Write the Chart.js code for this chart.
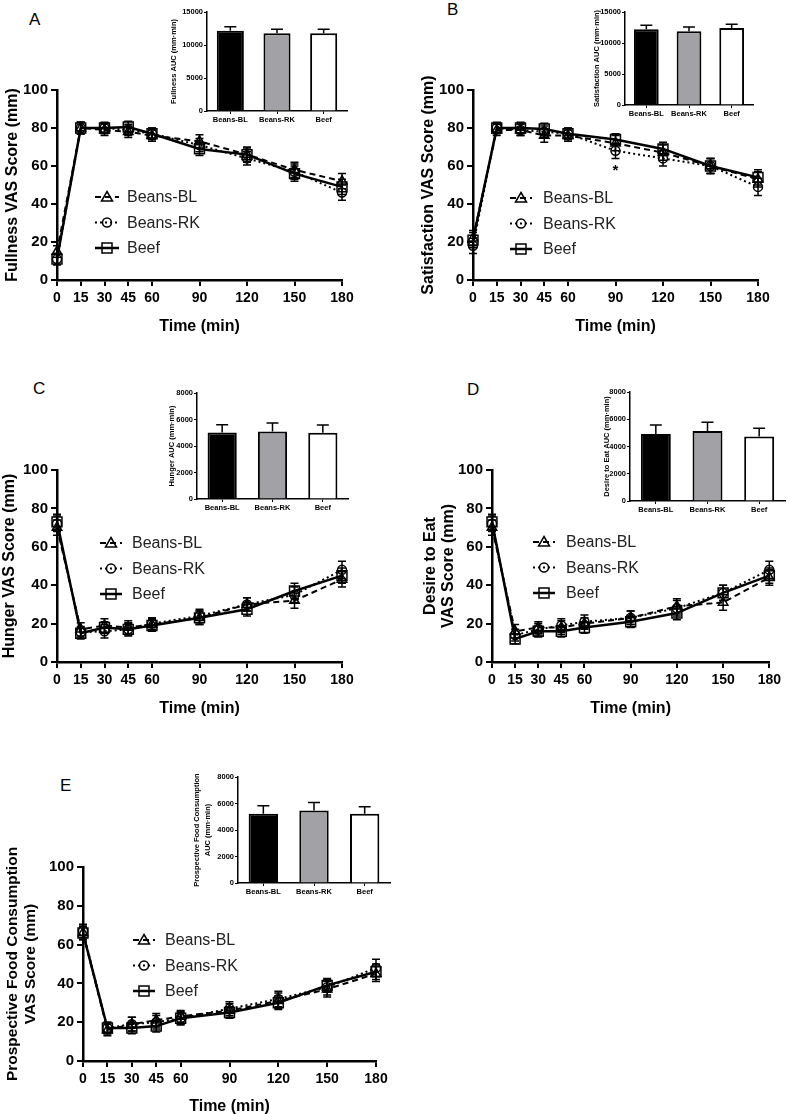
<!DOCTYPE html>
<html>
<head>
<meta charset="utf-8">
<script src="https://cdn.jsdelivr.net/npm/chart.js@4/dist/chart.umd.min.js"></script>
<style>
body{margin:0;width:790px;height:1114px;overflow:hidden;background:#fff;position:relative;font-family:"Liberation Sans",Arial,sans-serif}
canvas{position:absolute}
.lbl{position:absolute;font-size:17px;line-height:1;color:#000}
</style>
</head>
<body>
<div class="lbl" style="left:29px;top:11px">A</div>
<div class="lbl" style="left:447px;top:1px">B</div>
<div class="lbl" style="left:33px;top:380px">C</div>
<div class="lbl" style="left:467px;top:381px">D</div>
<div class="lbl" style="left:60px;top:777px">E</div>

<canvas id="lineA"></canvas><canvas id="barA"></canvas>
<canvas id="lineB"></canvas><canvas id="barB"></canvas>
<canvas id="lineC"></canvas><canvas id="barC"></canvas>
<canvas id="lineD"></canvas><canvas id="barD"></canvas>
<canvas id="lineE"></canvas><canvas id="barE"></canvas>

<script>
// time points (min)
const times = [0, 15, 30, 45, 60, 90, 120, 150, 180]
const groups = ['Beans-BL', 'Beans-RK', 'Beef']

// A - fullness
const fullBL = [15, 80, 79, 78, 76, 73, 66, 58, 52]
const fullBLerr = [3, 3, 3, 3, 3, 3.5, 4, 4, 4]
const fullRK = [11, 80, 80, 79, 77, 71, 64, 57, 46]
const fullRKerr = [3, 3, 3, 3, 3, 3.5, 3.5, 4, 4]
const fullBeef = [11, 80, 80, 80.5, 77, 69, 66, 56, 49]
const fullBeefErr = [3, 3, 2.5, 3, 3, 3.5, 3.5, 4, 4]
const fullAuc = [12170, 11770, 11770]
const fullAucErr = [600, 600, 600]

// B - satisfaction
const satBL = [22, 79, 79, 76, 76, 72, 67, 60, 53]
const satBLerr = [4, 3, 3, 3.5, 3, 4, 4, 4, 4]
const satRK = [18, 80, 79, 78, 77, 68, 64, 60, 49]
const satRKerr = [4, 3, 3, 3, 3, 4, 4, 4, 4.5]
const satBeef = [21, 80, 80, 79.5, 77, 74, 69, 60, 54]
const satBeefErr = [4, 2.5, 3, 3, 3, 3, 3.5, 4, 4]
const satAuc = [12220, 11900, 12430]
const satAucErr = [640, 690, 600]
const satStars = [[90, 59]]

// C - hunger
const hunBL = [70, 17, 19, 18, 19.5, 23, 30, 32, 43]
const hunBLerr = [4, 3.5, 3.5, 3.5, 3, 3.5, 3.5, 4, 4]
const hunRK = [72, 15.5, 16, 17, 20, 24, 30, 35, 48]
const hunRKerr = [4, 3, 3.5, 3.5, 3, 3.5, 3.5, 4, 4.5]
const hunBeef = [73, 15, 18, 17, 19, 23, 27.5, 37, 45]
const hunBeefErr = [4, 3, 3, 3, 3, 3.5, 3.5, 4, 4]
const hunAuc = [5020, 5100, 5000]
const hunAucErr = [580, 630, 580]

// D - desire to eat
const desBL = [70, 16, 18, 18, 20, 23, 29, 31, 44]
const desBLerr = [4, 3.5, 3, 3.5, 3, 3.5, 4, 4, 4]
const desRK = [72, 14, 17, 19, 21, 23, 28, 36, 48]
const desRKerr = [4, 3, 3, 3.5, 3.5, 3.5, 4, 4, 4.5]
const desBeef = [73, 12, 16, 16, 18, 21, 25.5, 36, 45]
const desBeefErr = [4, 2.5, 3, 3, 3, 3, 3.5, 4, 4]
const desAuc = [4920, 5140, 4730]
const desAucErr = [660, 640, 610]

// E - prospective food consumption
const proBL = [66, 16, 19, 21, 23, 26, 31, 37, 45]
const proBLerr = [3.5, 3, 3.5, 3.5, 3, 3.5, 4, 4, 4]
const proRK = [67, 17, 19, 20, 22, 27, 32, 38, 48]
const proRKerr = [3.5, 3, 3.5, 3.5, 3.5, 3.5, 4, 4, 4.5]
const proBeef = [66, 17, 17, 18, 22, 25, 30, 39, 46]
const proBeefErr = [3.5, 3, 3, 3, 3, 3, 3.5, 3.5, 4]
const proAuc = [5230, 5480, 5230]
const proAucErr = [600, 600, 530]

const FAM = '"Liberation Sans", Arial, sans-serif'
Chart.defaults.font.family = FAM
Chart.defaults.color = '#000'

function marker(ctx, style, x, y) {
    ctx.beginPath()
    if (style == 'triangle') {
        ctx.moveTo(x, y - 5.5); ctx.lineTo(x + 5.5, y + 4); ctx.lineTo(x - 5.5, y + 4); ctx.closePath()
    } else if (style == 'circle') {
        ctx.arc(x, y, 4.5, 0, Math.PI * 2)
    } else {
        ctx.rect(x - 5, y - 5, 10, 10)
    }
    ctx.stroke()
}

const errorBars = {
    id: 'errorBars',
    afterDatasetsDraw(chart) {
        const ctx = chart.ctx, ys = chart.scales.y
        chart.data.datasets.forEach((ds, i) => {
            if (!ds.errors) return
            const meta = chart.getDatasetMeta(i)
            ctx.save()
            ctx.strokeStyle = '#000'
            ctx.lineWidth = ds.errWidth || 1.5
            ctx.setLineDash([])
            meta.data.forEach((el, j) => {
                const d = ds.data[j]
                const v = typeof d == 'object' ? d.y : d
                const top = ys.getPixelForValue(v + ds.errors[j])
                const bot = ys.getPixelForValue(ds.upOnly ? v : v - ds.errors[j])
                const cap = ds.cap || 4
                ctx.beginPath()
                ctx.moveTo(el.x, top); ctx.lineTo(el.x, bot)
                ctx.moveTo(el.x - cap, top); ctx.lineTo(el.x + cap, top)
                if (!ds.upOnly) { ctx.moveTo(el.x - cap, bot); ctx.lineTo(el.x + cap, bot) }
                ctx.stroke()
            })
            ctx.restore()
        })
    }
}

const sideLegend = {
    id: 'sideLegend',
    afterDraw(chart, args, opts) {
        if (opts.x == null) return
        const ctx = chart.ctx
        chart.data.datasets.forEach((ds, i) => {
            const yy = opts.y + i * 25.5
            ctx.save()
            ctx.strokeStyle = '#000'
            ctx.lineWidth = ds.borderWidth
            ctx.setLineDash(ds.borderDash || [])
            ctx.beginPath(); ctx.moveTo(opts.x, yy); ctx.lineTo(opts.x + opts.len, yy); ctx.stroke()
            ctx.setLineDash([])
            ctx.lineWidth = 1.5
            marker(ctx, ds.pointStyle, opts.x + opts.len / 2, yy)
            ctx.fillStyle = '#222'
            ctx.font = '16px ' + FAM
            ctx.textBaseline = 'middle'
            ctx.fillText(ds.label, opts.tx, yy + 1)
            ctx.restore()
        })
        // significance marks
        ;(opts.stars || []).forEach(s => {
            ctx.save()
            ctx.fillStyle = '#000'
            ctx.font = 'bold 15px ' + FAM
            ctx.textAlign = 'center'
            ctx.textBaseline = 'middle'
            ctx.fillText('*', chart.scales.x.getPixelForValue(s[0]), chart.scales.y.getPixelForValue(s[1]) + 3)
            ctx.restore()
        })
    }
}

function place(id, left, top, w, h) {
    const el = document.getElementById(id)
    el.width = w; el.height = h
    el.style.left = left + 'px'; el.style.top = top + 'px'
    return el
}

function lineChart(id, box, yTitle, sets, legend) {
    const el = place(id, box.left, box.top, box.w, box.h)
    const styles = [
        { pointStyle: 'triangle', borderDash: [6, 4], borderWidth: 2, pointRadius: 5.5 },
        { pointStyle: 'circle', borderDash: [2, 3], borderWidth: 2, pointRadius: 4.5 },
        { pointStyle: 'rect', borderDash: [], borderWidth: 2.5, pointRadius: 7 }
    ]
    const datasets = sets.map((s, k) => Object.assign({
        label: groups[k],
        data: times.map((t, j) => ({ x: t, y: s[0][j] })),
        errors: s[1],
        borderColor: '#000',
        backgroundColor: 'rgba(0,0,0,0)',
        pointBorderColor: '#000',
        pointBorderWidth: 1.5,
        lineTension: 0,
        clip: false,
        cap: 4
    }, styles[k]))
    return new Chart(el, {
        type: 'line',
        data: { datasets },
        plugins: [errorBars, sideLegend],
        options: {
            responsive: false,
            animation: false,
            devicePixelRatio: 1,
            layout: { padding: { top: box.padTop, right: box.padRight, left: 0, bottom: 0 } },
            plugins: {
                legend: { display: false },
                tooltip: { enabled: false },
                sideLegend: legend
            },
            scales: {
                x: {
                    type: 'linear', min: 0, max: 180,
                    afterBuildTicks: s => { s.ticks = times.map(v => ({ value: v })) },
                    afterFit: s => { s.height = box.xH },
                    border: { display: true, color: '#000', width: 2.5 },
                    grid: { display: true, drawOnChartArea: false, drawTicks: true, tickLength: 6, color: '#000', lineWidth: 2 },
                    ticks: { color: '#000', font: { size: 14, weight: 'bold' }, padding: 4, maxRotation: 0, autoSkip: false },
                    title: { display: true, text: 'Time (min)', color: '#000', font: { size: 16, weight: 'bold' }, padding: 0 }
                },
                y: {
                    min: 0, max: 100,
                    afterFit: s => { s.width = box.yW },
                    border: { display: true, color: '#000', width: 2.5 },
                    grid: { display: true, drawOnChartArea: false, drawTicks: true, tickLength: 6, color: '#000', lineWidth: 2 },
                    ticks: { stepSize: 20, color: '#000', font: { size: 15, weight: 'bold' }, padding: 3 },
                    title: {
                        display: true, text: yTitle, color: '#000',
                        font: { size: box.titleSize || 16, weight: 'bold', lineHeight: 1.15 },
                        padding: { top: box.titlePad || 0, bottom: 0 }
                    }
                }
            }
        }
    })
}

function barChart(id, box, yTitle, vals, errs, yMax, step) {
    const el = place(id, box.left, box.top, box.w, box.h)
    return new Chart(el, {
        type: 'bar',
        data: {
            labels: groups,
            datasets: [{
                data: vals,
                errors: errs,
                upOnly: true,
                cap: 6,
                errWidth: 1.5,
                backgroundColor: ['#000000', '#a2a2a6', '#ffffff'],
                borderColor: '#000',
                borderWidth: 2,
                barPercentage: 0.58,
                categoryPercentage: 1
            }]
        },
        plugins: [errorBars],
        options: {
            responsive: false,
            animation: false,
            devicePixelRatio: 1,
            layout: { padding: { top: box.padTop, right: box.padRight, left: 0, bottom: 0 } },
            plugins: { legend: { display: false }, tooltip: { enabled: false } },
            scales: {
                x: {
                    afterFit: s => { s.height = box.xH },
                    border: { display: true, color: '#000', width: 1.5 },
                    grid: { display: true, offset: false, drawOnChartArea: false, tickLength: 3, color: '#000', lineWidth: 1 },
                    ticks: { color: '#000', font: { size: 7.5, weight: 'bold' }, padding: 1, maxRotation: 0 }
                },
                y: {
                    min: 0, max: yMax,
                    afterFit: s => { s.width = box.yW },
                    border: { display: true, color: '#000', width: 1.5 },
                    grid: { display: true, drawOnChartArea: false, tickLength: 3, color: '#000', lineWidth: 1 },
                    ticks: { stepSize: step, color: '#000', font: { size: 7.5, weight: 'bold' }, padding: 1, callback: v => String(v) },
                    title: {
                        display: true, text: yTitle, color: '#000',
                        font: { size: 7.5, weight: 'bold', lineHeight: 1.5 },
                        padding: { top: box.titlePad || 0, bottom: 0 }
                    }
                }
            }
        }
    })
}

lineChart('lineA', { left: 0, top: 70, w: 360, h: 266, yW: 57, xH: 56, padTop: 20, padRight: 18, titlePad: 3 },
    'Fullness VAS Score (mm)',
    [[fullBL, fullBLerr], [fullRK, fullRKerr], [fullBeef, fullBeefErr]],
    { x: 95, y: 127, len: 24, tx: 127 })
barChart('barA', { left: 165, top: 0, w: 190, h: 131, yW: 42, xH: 20, padTop: 12, padRight: 8, titlePad: 3 },
    'Fullness AUC (mm·min)', fullAuc, fullAucErr, 15000, 5000)

lineChart('lineB', { left: 395, top: 70, w: 380, h: 266, yW: 78, xH: 56, padTop: 20, padRight: 17, titlePad: 24 },
    'Satisfaction VAS Score (mm)',
    [[satBL, satBLerr], [satRK, satRKerr], [satBeef, satBeefErr]],
    { x: 115, y: 128, len: 22, tx: 148, stars: satStars })
barChart('barB', { left: 585, top: 0, w: 175, h: 125, yW: 40, xH: 20, padTop: 12, padRight: 7, titlePad: 6 },
    'Satisfaction AUC (mm·min)', satAuc, satAucErr, 15000, 5000)

lineChart('lineC', { left: 0, top: 450, w: 360, h: 268, yW: 57, xH: 56, padTop: 20, padRight: 18 },
    'Hunger VAS Score (mm)',
    [[hunBL, hunBLerr], [hunRK, hunRKerr], [hunBeef, hunBeefErr]],
    { x: 100, y: 93, len: 22, tx: 132 })
barChart('barC', { left: 160, top: 381, w: 195, h: 138, yW: 37, xH: 20, padTop: 12, padRight: 7, titlePad: 6 },
    'Hunger AUC (mm·min)', hunAuc, hunAucErr, 8000, 2000)

lineChart('lineD', { left: 395, top: 450, w: 390, h: 268, yW: 97, xH: 56, padTop: 20, padRight: 10, titlePad: 26 },
    ['Desire to Eat', 'VAS Score (mm)'],
    [[desBL, desBLerr], [desRK, desRKerr], [desBeef, desBeefErr]],
    { x: 138, y: 92, len: 22, tx: 171 })
barChart('barD', { left: 595, top: 380, w: 195, h: 141, yW: 35, xH: 20, padTop: 12, padRight: 5, titlePad: 6 },
    'Desire to Eat AUC (mm·min)', desAuc, desAucErr, 8000, 2000)

lineChart('lineE', { left: 0, top: 827, w: 395, h: 289, yW: 83, xH: 55, padTop: 40, padRight: 19, titlePad: 4, titleSize: 15.5 },
    ['Prospective Food Consumption', 'VAS Score (mm)'],
    [[proBL, proBLerr], [proRK, proRKerr], [proBeef, proBeefErr]],
    { x: 133, y: 113, len: 22, tx: 165 })
barChart('barE', { left: 185, top: 765, w: 212, h: 138, yW: 53, xH: 20, padTop: 12, padRight: 7, titlePad: 6 },
    ['Prospective Food Consumption', 'AUC (mm·min)'], proAuc, proAucErr, 8000, 2000)
</script>
</body>
</html>
